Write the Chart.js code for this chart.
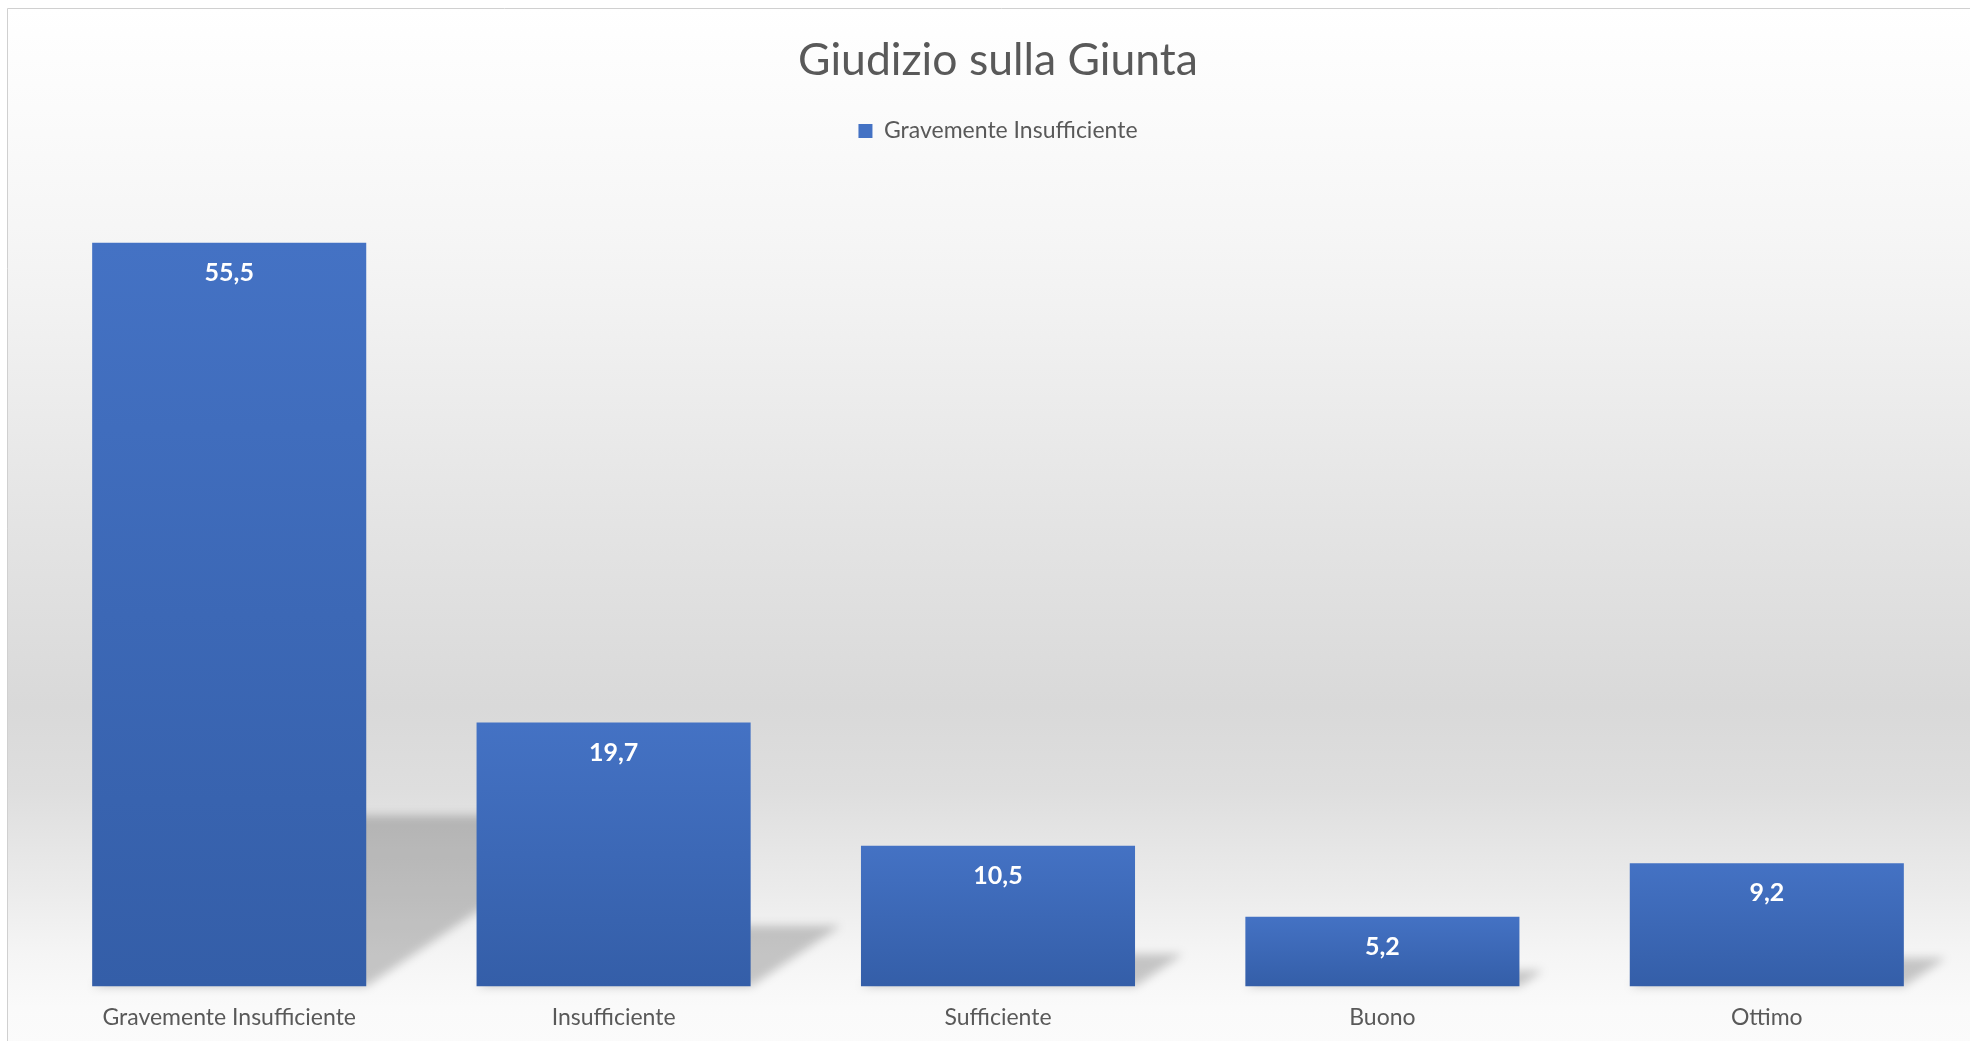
<!DOCTYPE html>
<html>
<head>
<meta charset="utf-8">
<title>Giudizio sulla Giunta</title>
<script src="https://cdn.jsdelivr.net/npm/chart.js@4.4.1/dist/chart.umd.min.js"></script>
<style>
    html, body { margin: 0; padding: 0; background: #ffffff; overflow: hidden; }
    #wrap { position: absolute; left: 0; top: 0; width: 1995px; height: 1049px; }
</style>
</head>
<body>
<div id="wrap"><canvas id="giuntaChart" width="1995" height="1049"></canvas></div>
<script>
// Dati del grafico
const categorie = ['Gravemente Insufficiente', 'Insufficiente', 'Sufficiente', 'Buono', 'Ottimo'];
const valori = [55.5, 19.7, 10.5, 5.2, 9.2];
const nomeSerie = 'Gravemente Insufficiente';
const titolo = 'Giudizio sulla Giunta';
const yMax = 60;

const FONT = "Lato, 'Open Sans', sans-serif";
const GRIGIO_TESTO = '#595959';

// Colore delle barre: sfumatura verticale su ogni barra
function coloreBarra(ctx) {
    if (ctx.type !== 'data') return '#4472C4';
    const chart = ctx.chart;
    const y = chart.scales.y;
    if (!y || !chart.chartArea) return '#4472C4';
    const alto = y.getPixelForValue(ctx.raw);
    const basso = y.getPixelForValue(0);
    if (!isFinite(alto) || !isFinite(basso) || alto === basso) return '#4472C4';
    const g = chart.ctx.createLinearGradient(0, alto, 0, basso);
    g.addColorStop(0, '#4472C4');
    g.addColorStop(1, '#345EA8');
    return g;
}

// Sfondo sfumato e bordo
const sfondoPlugin = {
    id: 'sfondo',
    beforeDraw(chart) {
        const { ctx, width, height } = chart;
        ctx.save();
        ctx.fillStyle = '#ffffff';
        ctx.fillRect(0, 0, width, height);
        const g = ctx.createLinearGradient(0, 8, 0, height);
        g.addColorStop(0.00, '#ffffff');
        g.addColorStop(0.12, '#fafafa');
        g.addColorStop(0.23, '#f5f5f5');
        g.addColorStop(0.30, '#f1f1f1');
        g.addColorStop(0.48, '#e5e5e5');
        g.addColorStop(0.67, '#d9d9d9');
        g.addColorStop(0.75, '#dedede');
        g.addColorStop(0.845, '#ebebeb');
        g.addColorStop(0.91, '#f5f5f5');
        g.addColorStop(0.96, '#fafafa');
        g.addColorStop(1.00, '#fbfbfb');
        ctx.fillStyle = g;
        ctx.fillRect(7, 8, width - 7, height - 8);
        ctx.strokeStyle = '#d0d0d0';
        ctx.lineWidth = 1;
        ctx.beginPath();
        ctx.moveTo(7.5, height);
        ctx.lineTo(7.5, 8.5);
        ctx.lineTo(width, 8.5);
        ctx.stroke();
        ctx.restore();
    }
};

// Ombra prospettica dietro le barre
const ombrePlugin = {
    id: 'ombre',
    beforeDatasetsDraw(chart) {
        const { ctx } = chart;
        const meta = chart.getDatasetMeta(0);
        ctx.save();
        ctx.filter = 'blur(5px)';
        ctx.fillStyle = 'rgba(0, 0, 0, 0.2)';
        meta.data.forEach(bar => {
            const { x, y, base, width } = bar.getProps(['x', 'y', 'base', 'width'], true);
            const sx = x - width / 2;
            const dx = x + width / 2;
            const h = (base - y) * 0.23;
            const k = h * 1.48;
            ctx.beginPath();
            ctx.moveTo(sx, base);
            ctx.lineTo(dx, base);
            ctx.lineTo(dx + k, base - h);
            ctx.lineTo(sx + k, base - h);
            ctx.closePath();
            ctx.fill();
        });
        ctx.restore();
    }
};

// Etichette dei valori dentro le barre
const etichettePlugin = {
    id: 'etichette',
    afterDatasetsDraw(chart) {
        const { ctx } = chart;
        const meta = chart.getDatasetMeta(0);
        ctx.save();
        ctx.fillStyle = '#ffffff';
        ctx.font = 'bold 25px ' + FONT;
        ctx.textAlign = 'center';
        ctx.textBaseline = 'middle';
        meta.data.forEach((bar, i) => {
            const testo = String(valori[i]).replace('.', ',');
            ctx.fillText(testo, bar.x, bar.y + 30);
        });
        ctx.restore();
    }
};

const ctx = document.getElementById('giuntaChart').getContext('2d');
new Chart(ctx, {
    type: 'bar',
    data: {
        labels: categorie,
        datasets: [{
            label: nomeSerie,
            data: valori,
            backgroundColor: coloreBarra,
            borderWidth: 0,
            categoryPercentage: 1,
            barPercentage: 0.713
        }]
    },
    options: {
        responsive: false,
        animation: false,
        layout: {
            padding: { top: 0, left: 37, right: 36, bottom: 0 }
        },
        plugins: {
            title: {
                display: true,
                text: titolo,
                color: GRIGIO_TESTO,
                font: { family: FONT, size: 44.5, weight: 'normal', lineHeight: 1 },
                padding: { top: 38, bottom: 0 }
            },
            legend: {
                display: true,
                position: 'top',
                labels: {
                    boxWidth: 14,
                    boxHeight: 14,
                    padding: 37,
                    color: GRIGIO_TESTO,
                    font: { family: FONT, size: 23 }
                }
            },
            // spazio vuoto tra legenda e barre
            subtitle: {
                display: true,
                text: '',
                position: 'top',
                weight: 500,
                font: { size: 1, lineHeight: 1 },
                padding: { top: 29, bottom: 0 }
            },
            tooltip: { enabled: false }
        },
        scales: {
            x: {
                grid: { display: false, drawTicks: false },
                border: { display: false },
                ticks: {
                    color: GRIGIO_TESTO,
                    font: { family: FONT, size: 23 },
                    padding: 17.5
                }
            },
            y: {
                display: false,
                min: 0,
                max: yMax
            }
        }
    },
    plugins: [sfondoPlugin, ombrePlugin, etichettePlugin]
});
</script>
</body>
</html>
